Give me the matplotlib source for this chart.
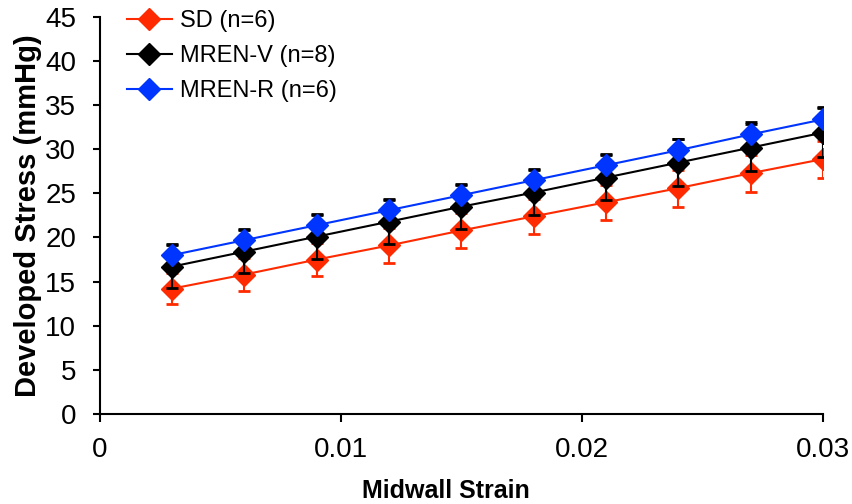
import matplotlib
matplotlib.use('Agg')
import matplotlib.pyplot as plt
import numpy as np

plt.rcParams.update({'font.family': ['Liberation Sans', 'DejaVu Sans'], 'font.size': 14})

strain = [0.003, 0.006, 0.009, 0.012, 0.015, 0.018, 0.021, 0.024, 0.027, 0.030]

sd = [14.2, 15.8, 17.5, 19.1, 20.8, 22.4, 24.0, 25.6, 27.3, 28.9]
sd_err = [1.8, 1.9, 1.9, 2.0, 2.0, 2.0, 2.0, 2.1, 2.1, 2.1]

mren_v = [16.7, 18.4, 20.1, 21.8, 23.5, 25.1, 26.8, 28.5, 30.2, 31.9]
mren_v_err = [2.4, 2.4, 2.5, 2.5, 2.5, 2.6, 2.6, 2.7, 2.7, 2.8]

mren_r = [18.0, 19.7, 21.4, 23.1, 24.8, 26.5, 28.2, 29.9, 31.7, 33.4]
mren_r_err = [1.3, 1.3, 1.3, 1.3, 1.3, 1.3, 1.3, 1.3, 1.4, 1.4]

series = [
    ('SD (n=6)', sd, sd_err, '#ff2a00', '#ff2a00'),
    ('MREN-V (n=8)', mren_v, mren_v_err, 'black', 'black'),
    ('MREN-R (n=6)', mren_r, mren_r_err, '#0035ff', 'black'),
]

fig = plt.figure(figsize=(8.53, 5.04), dpi=100)
ax = fig.add_axes([0.117, 0.179, 0.848, 0.787])

for i, (label, y, err, col, ecol) in enumerate(series):
    ax.errorbar(strain, y, yerr=err, fmt='none', ecolor=ecol, elinewidth=1.5,
                capsize=4.5, capthick=2, zorder=2 + 2 * i)
    ax.plot(strain, y, '-D', color=col, lw=1.5, ms=11.5, mec=col, label=label,
            zorder=3 + 2 * i)

ax.set_xlim(0, 0.03)
ax.set_ylim(0, 45)
ax.set_xticks([0, 0.01, 0.02, 0.03])
ax.set_xticklabels(['0', '0.01', '0.02', '0.03'])
ax.set_yticks(np.arange(0, 46, 5))
for s in ['top', 'right']:
    ax.spines[s].set_visible(False)
for s in ['left', 'bottom']:
    ax.spines[s].set_linewidth(1.5)
ax.tick_params(axis='both', width=1.5, length=6, labelsize=20)
ax.tick_params(axis='x', pad=11)
ax.tick_params(axis='y', length=5, pad=12)
ax.set_xlabel('Midwall Strain', fontweight='bold', fontsize=18)
ax.xaxis.set_label_coords(0.479, -0.165)
ax.set_ylabel('Developed Stress (mmHg)', fontweight='bold', fontsize=21, labelpad=2)

ax.legend(loc='upper left', bbox_to_anchor=(0.008, 1.072), frameon=False, fontsize=17,
          handlelength=1.9, handletextpad=0.35, labelspacing=0.55)

fig.savefig('out.png', dpi=100)
